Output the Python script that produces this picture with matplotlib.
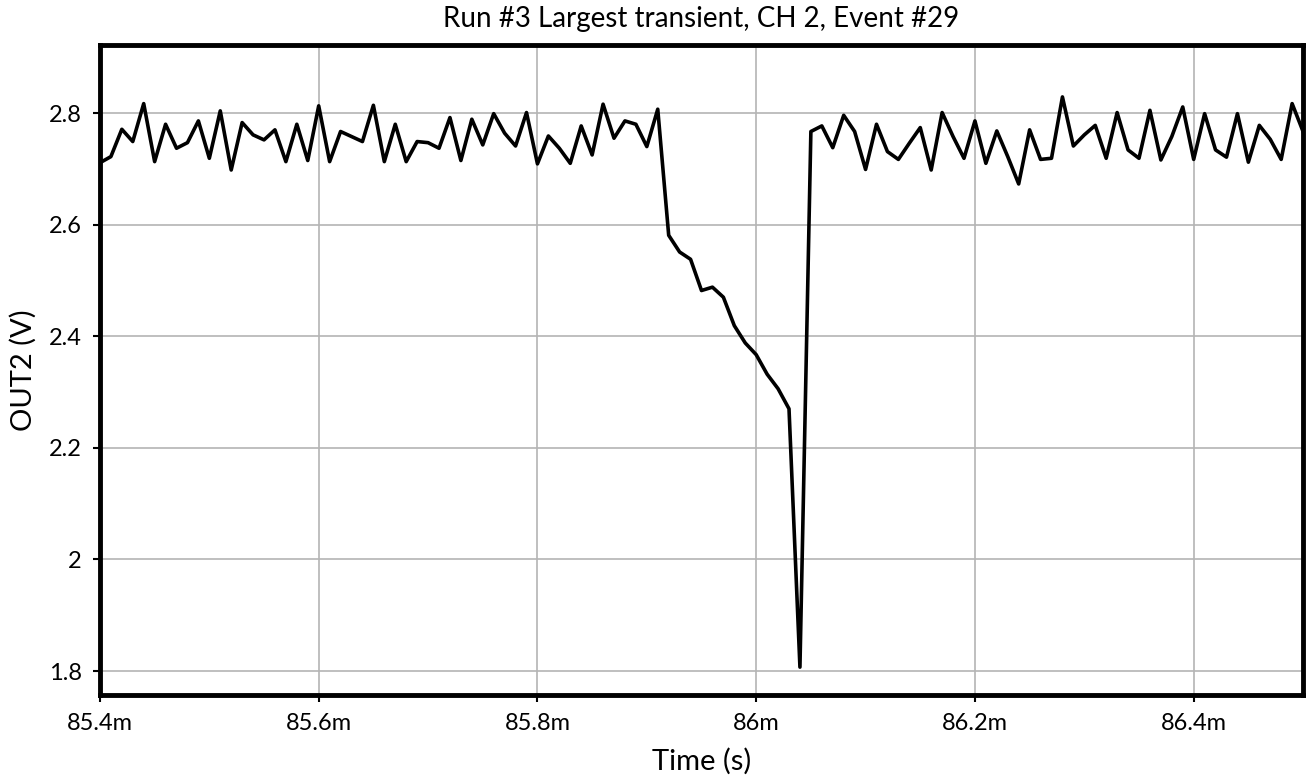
import numpy as np
import matplotlib
matplotlib.use("Agg")
import matplotlib.pyplot as plt
from matplotlib.ticker import EngFormatter, FormatStrFormatter

plt.rcParams['font.family'] = ['Lato', 'DejaVu Sans']

# Muestreo cada 10 us, desde 85.40 ms hasta 86.50 ms
t_inicio = 85.40e-3
dt = 10e-6
out2 = [
    2.711, 2.722, 2.771, 2.749, 2.817, 2.713, 2.780, 2.737, 2.747, 2.786,
    2.719, 2.804, 2.698, 2.783, 2.761, 2.752, 2.770, 2.713, 2.780, 2.715,
    2.813, 2.713, 2.767, 2.758, 2.749, 2.814, 2.713, 2.780, 2.713, 2.749,
    2.747, 2.737, 2.792, 2.715, 2.789, 2.743, 2.799, 2.764, 2.741, 2.801,
    2.709, 2.759, 2.737, 2.710, 2.777, 2.725, 2.816, 2.755, 2.786, 2.780,
    2.740, 2.807, 2.581, 2.551, 2.538, 2.482, 2.488, 2.470, 2.419, 2.388,
    2.367, 2.332, 2.306, 2.270, 1.807, 2.767, 2.777, 2.738, 2.796, 2.767,
    2.699, 2.780, 2.731, 2.717, 2.746, 2.774, 2.698, 2.801, 2.758, 2.719,
    2.786, 2.710, 2.768, 2.722, 2.673, 2.770, 2.717, 2.719, 2.829, 2.741,
    2.761, 2.778, 2.719, 2.801, 2.734, 2.719, 2.805, 2.716, 2.758, 2.811,
    2.717, 2.799, 2.734, 2.721, 2.799, 2.712, 2.778, 2.753, 2.717, 2.817,
    2.767,
]
tiempo = t_inicio + dt * np.arange(len(out2))

yticks = [1.8, 2.0, 2.2, 2.4, 2.6, 2.8]
xticks = [85.4e-3, 85.6e-3, 85.8e-3, 86.0e-3, 86.2e-3, 86.4e-3]

fig = plt.figure(figsize=(13.1, 7.79), dpi=100)
ax = fig.add_axes([0.0763, 0.1078, 0.9184, 0.8344])

ax.plot(tiempo, out2, color='black', linewidth=2.6, zorder=3)

ax.set_xlim(85.4e-3, 86.5e-3)
ax.set_ylim(1.757, 2.922)
ax.set_xticks(xticks)
ax.set_yticks(yticks)
ax.xaxis.set_major_formatter(EngFormatter(sep=''))
ax.yaxis.set_major_formatter(FormatStrFormatter('%g'))
ax.grid(True, color='#b4b4b4', linewidth=1.2)
ax.set_axisbelow(True)

for lado in ax.spines.values():
    lado.set_linewidth(3.5)
ax.tick_params(direction='out', length=5, width=1.5, labelsize=17, pad=8)

ax.set_xlabel("Time (s)", fontsize=21, labelpad=10)
ax.set_ylabel("OUT2 (V)", fontsize=21, labelpad=9)
ax.set_title("Run #3 Largest transient, CH 2, Event #29", fontsize=20, pad=13)

fig.savefig("out.png", dpi=100)
